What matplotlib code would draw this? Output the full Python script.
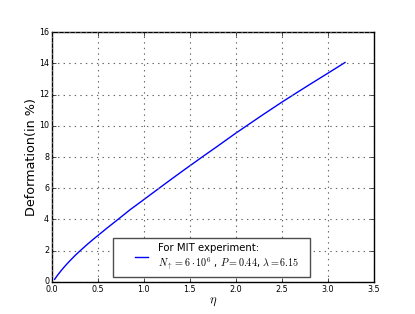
import matplotlib
matplotlib.use("Agg")
import matplotlib.pyplot as plt
from matplotlib.patches import Rectangle

plt.style.use("classic")

eta = [0.03, 0.06, 0.10, 0.13, 0.16, 0.20, 0.25, 0.31, 0.38, 0.45, 0.60, 0.725, 0.85,
       1.00, 1.16, 1.30, 1.45, 1.64, 1.80, 2.00, 2.15, 2.30, 2.50, 2.66, 2.80, 3.00, 3.19]
deformation = [0.17, 0.42, 0.72, 0.93, 1.13, 1.38, 1.68, 2.01, 2.38, 2.73, 3.45, 4.03, 4.62,
               5.27, 5.97, 6.58, 7.22, 8.02, 8.68, 9.52, 10.12, 10.72, 11.5, 12.1, 12.62,
               13.35, 14.05]

xticks = [0.0, 0.5, 1.0, 1.5, 2.0, 2.5, 3.0, 3.5]
yticks = [0, 2, 4, 6, 8, 10, 12, 14, 16]

label = ("For MIT experiment:\n"
         "$N_{\\uparrow}=6\\cdot10^6$ , $P=0.44$, $\\lambda=6.15$")

fig = plt.figure(figsize=(4.15, 3.14), dpi=100, facecolor="white")
ax = fig.add_axes([0.125, 0.102, 0.775, 0.796])
ax.set_facecolor("white")
ax.plot(eta, deformation, color="b", linewidth=1.0, label=label)
ax.set_xlim(0, 3.5)
ax.set_ylim(0, 16)
ax.set_xticks(xticks)
ax.set_yticks(yticks)
ax.set_xticklabels([f"{t:.1f}" for t in xticks])
ax.set_yticklabels([str(t) for t in yticks])
ax.tick_params(labelsize=5.8, direction="in", length=3, pad=2)
ax.grid(True, color="0.4", linestyle=":", linewidth=0.8)
ax.set_xlabel("$\\eta$", fontsize=9, labelpad=1)
ax.set_ylabel("Deformation(in %)", fontsize=9.2, labelpad=1)

# legend frame
frame = Rectangle((0.19, 0.02), 0.614, 0.156, transform=ax.transAxes,
                  facecolor="white", edgecolor="0.3", linewidth=1.0, zorder=4)
ax.add_patch(frame)
leg = ax.legend(loc="center left", bbox_to_anchor=(0.249, 0.1), borderaxespad=0,
                borderpad=0, fontsize=7.3, frameon=False, handlelength=1.85,
                handletextpad=0.7, numpoints=2)
leg.set_zorder(5)
fig.savefig("out.png", dpi=100, facecolor="white")
